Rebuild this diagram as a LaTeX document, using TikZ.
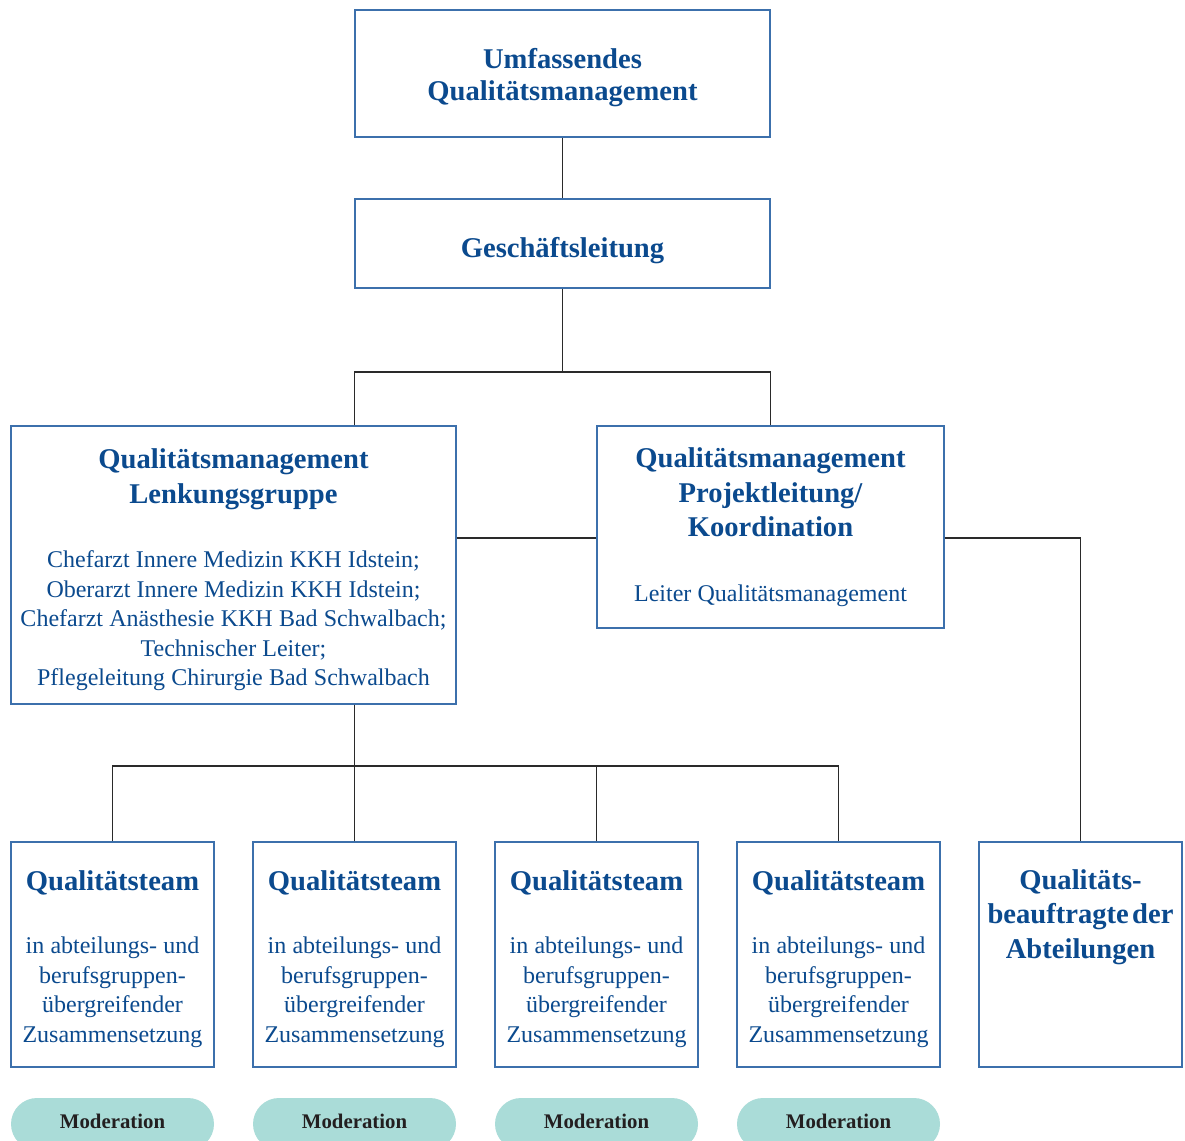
\documentclass[tikz,border=0pt]{standalone}
\usepackage{fontspec}
\setmainfont{Liberation Serif}
\definecolor{textblue}{HTML}{0B4A8E}
\definecolor{boxblue}{HTML}{3C70AC}
\definecolor{linegray}{HTML}{2A2A2A}
\definecolor{pillfill}{HTML}{AADCD8}
\definecolor{pilltext}{HTML}{231F20}
\newcommand\TitleFont{\fontsize{28.6}{34.5}\selectfont\bfseries}
\newcommand\TopFont{\fontsize{28.6}{32}\selectfont\bfseries}
\newcommand\BodyFont{\fontsize{24}{29.5}\selectfont\spaceskip=6.2pt\relax}
\begin{document}
\begin{tikzpicture}[x=1pt,y=-1pt,
  box/.style={draw=boxblue, line width=1.4pt, rectangle, inner sep=0pt,
    align=center, text=textblue},
  conn/.style={draw=linegray, line width=1.2pt},
  pill/.style={fill=pillfill, rounded corners=26pt, inner sep=0pt,
    minimum width=203pt, minimum height=52pt, text=pilltext, text depth=6pt,
    font=\fontsize{20.8}{24}\selectfont\bfseries},
  team/.style={box, minimum width=203pt, minimum height=225pt, text width=195pt}
]
\clip (0,0) rectangle (1185,1140);
\fill[white] (0,0) rectangle (1185,1140);

% boxes
\node[box, minimum width=415pt, minimum height=127pt, text width=400pt] (top) at (562.5,73.5)
  {{\TopFont Umfassendes\\Qualitätsmanagement\par}\vspace{-8pt}};
\node[box, minimum width=415pt, minimum height=89pt, text width=400pt] (gl) at (562.5,243.5)
  {{\TitleFont\smash{Geschäftsleitung}\rule{0pt}{27pt}\par}};
\node[box, minimum width=445pt, minimum height=278pt, text width=435pt] (lenk) at (233.5,565)
  {{\TitleFont Qualitätsmanagement\\Lenkungsgruppe\par}\vspace{35pt}%
   {\BodyFont Chefarzt Innere Medizin KKH Idstein;\\Oberarzt Innere Medizin KKH Idstein;\\Chefarzt Anästhesie KKH Bad Schwalbach;\\Technischer Leiter;\\Pflegeleitung Chirurgie Bad Schwalbach\par}\vspace{-10pt}};
\node[box, minimum width=347pt, minimum height=202pt, text width=337pt] (proj) at (770.5,527)
  {{\TitleFont Qualitätsmanagement\\Projektleitung/\\Koordination\par}\vspace{35pt}%
   {\BodyFont Leiter Qualitätsmanagement\par}};

\foreach \i/\x in {1/112.5,2/354.5,3/596.5,4/838.5}{
  \node[team] (team\i) at (\x,954.5)
    {{\TitleFont Qualitätsteam\par}\vspace{34pt}%
     {\BodyFont in abteilungs- und\\berufsgruppen-\\übergreifender\\Zusammensetzung\par}\vspace{-9pt}};
  \node[pill] (mod\i) at (\x,1124) {Moderation};
}
\node[team] (beauf) at (1080.5,954.5)
  {{\TitleFont Qualitäts-\\beauftragte der\\Abteilungen\par}\vspace{75pt}};

% connectors
\coordinate (b1) at (562.5,372);
\coordinate (hy) at (0,538);
\coordinate (b2) at (0,766);
\draw[conn] (top.south) -- (gl.north);
\draw[conn] (gl.south) -- (b1);
\draw[conn] (lenk.north -| gl.west) |- (proj.north |- b1) -- (proj.north);
\draw[conn] (lenk.east |- hy) -- (proj.west |- hy);
\draw[conn] (proj.east |- hy) -| (beauf.north);
\draw[conn] (lenk.south -| gl.west) -- (gl.west |- b2);
\draw[conn] (team1.north) |- (team4.north |- b2) -- (team4.north);
\draw[conn] (team2.north) -- (team2.north |- b2);
\draw[conn] (team3.north) -- (team3.north |- b2);
\end{tikzpicture}
\end{document}
